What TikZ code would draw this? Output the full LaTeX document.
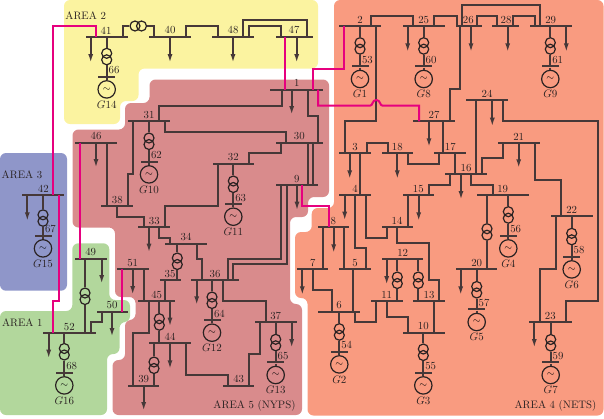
\documentclass[tikz,border=0pt]{standalone}
\usepackage{xcolor}
\usetikzlibrary{arrows.meta}
\definecolor{areaone}{HTML}{B2D79C}
\definecolor{areatwo}{HTML}{FBF3A0}
\definecolor{areathree}{HTML}{8F96C9}
\definecolor{areafour}{HTML}{F99B80}
\definecolor{areafive}{HTML}{D98B8C}
\definecolor{tieline}{HTML}{E6007E}
\definecolor{ink}{HTML}{2A2222}
\definecolor{wire}{HTML}{463838}
\tikzset{
  area/.style = {rounded corners=6pt},
  bus node/.style = {rectangle,fill=wire,inner sep=0pt,minimum height=2pt},
  gen bus node/.style = {bus node,minimum width=17pt},
  trafo node/.style = {circle,draw=ink,line width=1.2pt,inner sep=0pt,minimum size=10pt},
  gen node/.style = {circle,draw=ink,line width=1.2pt,inner sep=0pt,minimum size=17.4pt},
  name node/.style = {inner sep=0pt,font=\fontsize{10.8}{12}\selectfont,text=ink},
  line/.style = {draw=wire,line width=2pt},
  load/.style = {line,-{Latex[length=9pt,width=5pt]}},
  tie/.style = {draw=tieline,line width=2pt}
}

\begin{document}
\begin{tikzpicture}[x=1pt,y=-1pt]
  \useasboundingbox (0,0) rectangle (604,418);

  \fill[areatwo,area] (64,0) -- (318,0) -- (318,68.5) -- (138.5,68.5) -- (138.5,101) -- (120,101) -- (120,124) -- (64,124) -- cycle;
  \fill[areathree,area] (0,153) -- (67,153) -- (67,290.7) -- (0,290.7) -- cycle;
  \fill[areaone,area] (0,311) -- (72.3,311) -- (72.3,243.3) -- (109.3,243.3) -- (109.3,300) -- (130,300) -- (130,322) -- (119.5,322) -- (119.5,354) -- (107,354) -- (107,415) -- (0,415) -- cycle;
  \fill[areafive,area] (72.5,129.5) -- (125,129.5) -- (125,103) -- (149.5,103) -- (149.5,79.5) -- (329,79.5) -- (329,197) -- (308,197) -- (308,217) -- (290,217) -- (290,304) -- (302,304) -- (302,415) -- (112.5,415) -- (112.5,360) -- (125,360) -- (125,320) -- (135.5,320) -- (135.5,297) -- (115,297) -- (115,227.5) -- (72.5,227.5) -- cycle;
  \fill[areafour,area] (334,0) -- (603.5,0) -- (603.5,415.5) -- (307.5,415.5) -- (307.5,298) -- (295,298) -- (295,232) -- (311.7,232) -- (311.7,208) -- (334,208) -- cycle;

  \node[name node] (area1) at (22.3,322.7) {AREA 1};
  \node[name node] (area2) at (85.7,15.7) {AREA 2};
  \node[name node] (area3) at (22,174.7) {AREA 3};
  \node[name node] (area4) at (555.5,405.5) {AREA 4 (NETS)};
  \node[name node] (area5) at (254.5,405.3) {AREA 5 (NYPS)};

  \foreach \num/\xl/\xr/\ypos/\xt in {
    1/270/323.3/89.7/296.7, 2/339.3/381/26/360, 3/339.3/370.7/153/355, 4/339.3/370.7/195/355,
    5/339.3/370.7/269.3/355, 6/318.3/360/311.7/339, 7/297.3/328.3/269.3/312.7, 8/318.3/349.3/227/333.3,
    9/276/317.7/185/296.7, 10/402.7/445/332.7/423.3, 11/371/402.7/301/386.7, 12/381.7/423.3/258.7/402.7,
    13/413.3/445/301/429, 14/381.7/412.7/227/397, 15/403.3/434.3/195/418.3, 16/445/486.7/174/466,
    17/434.3/465.7/153/450.3, 18/381.7/412.7/153/397.3, 19/476.7/529.3/195/502.7, 20/455.7/497.3/269.3/476.7,
    21/497.7/539.7/142.7/518.7, 22/550.7/592.7/216.3/571.7, 23/529.3/571.7/322/550.3, 24/466/508/100/487,
    25/402.7/444.7/26/423.7, 26/455.7/481.7/26/468.3, 27/413.3/455.3/121.3/434, 28/492.3/518.7/26/506,
    29/529.7/571.7/26/550.7, 30/276/323.3/142.5/299.3, 31/128.3/170/121.3/149, 32/212.7/254.3/163.7/233.3,
    33/138.3/170/227/154.3, 34/165/206.7/243.7/186, 35/160/180.7/280/170, 36/191.3/238.7/280/215,
    37/255/296.7/322/275.7, 38/101.3/132.7/206/117.3, 39/128/159.3/385.7/143.7, 40/149/191/36.7/170,
    41/85.7/127.7/36.7/106, 42/22.3/64/195/43.3, 43/223.3/254.3/385.7/238.7, 44/149/191/343.3/170,
    45/138.3/175.3/301/156.7, 46/75/116.7/142.7/96, 47/276/313/36.7/294, 48/212/254/36.7/233,
    49/75/106.7/258.7/90.7, 50/96.7/127.7/311.7/112, 51/117.3/148.7/269.3/132.7, 52/43.3/95.7/333/69.3} {
    \node[bus node,minimum width={(\xr-\xl)*1pt}] (b\num) at ({(\xl+\xr)/2},\ypos) {};
    \node[name node] (t\num) at (\xt,\ypos-6.3) {\num};
  }

  \foreach \num/\busno/\xpos/\ytr/\ybus/\gen in {
    53/2/360/42.7/66.3/1, 54/6/339.3/328.7/351.7/2, 55/10/423.3/349/372.7/3, 56/19/508.3/211.7/235.7/4,
    57/20/476.7/286.5/309.3/5, 58/22/571.7/233.3/256.7/6, 59/23/550.7/339.5/362.3/7, 60/25/423.7/42.7/66.3/8,
    61/29/550.3/42.7/66.3/9, 62/31/149/138/161.7/10, 63/32/233.3/181/204/11, 64/36/212/297/320/12,
    65/37/275.7/339.3/362.3/13, 66/41/106.7/53.3/76.7/14, 67/42/43/214.8/235.7/15, 68/52/64.3/348.5/372.7/16} {
    \node[trafo node] (x\num a) at (\xpos,\ytr) {};
    \node[trafo node] (x\num b) at (\xpos,\ytr+6.5) {};
    \node[gen bus node] (b\num) at (\xpos,\ybus) {};
    \node[name node] (t\num) at (\xpos+7.4,\ybus-6.3) {\num};
    \node[gen node] (g\num) at (\xpos,\ybus+12.7) {$\sim$};
    \node[name node] (n\num) at (\xpos,\ybus+27.8) {$G\gen$};
    \draw[line] (\xpos,0 |- b\busno) -- (x\num a);
    \draw[line] (x\num b) -- (b\num);
    \draw[line] (b\num) -- (g\num);
  }

  \foreach \busa/\busb/\xpos/\ytr in {49/52/85/293, 34/35/177.3/258, 19/20/487/228.7, 12/11/397.3/277,
    12/13/418.3/277, 44/39/154/362, 45/44/159.3/318.7} {
    \node[trafo node] (x\busa-\busb a) at (\xpos,\ytr) {};
    \node[trafo node] (x\busa-\busb b) at (\xpos,\ytr+6.5) {};
    \draw[line] (\xpos,0 |- b\busa) -- (x\busa-\busb a);
    \draw[line] (x\busa-\busb b) -- (\xpos,0 |- b\busb);
  }

  \foreach \busno/\xpos/\yend in {
    1/291.7/115, 3/349.7/179.3, 4/344.7/220.7, 7/302.3/295.3, 8/333.7/253.3, 9/297/210.7, 12/386.7/285,
    15/418.7/221.3, 16/461/200, 18/397.3/179.3, 20/460.7/295.3, 21/518.7/168.3, 23/534.3/348, 24/492.3/126.7,
    25/407.7/52.3, 26/471/52.3, 27/429/147.3, 28/507.7/52.3, 29/566.3/52.3, 33/149/252.7, 36/196.7/305.3,
    37/291.7/348, 39/143.7/411, 40/170/63, 41/90.7/63, 42/27.3/221.3, 44/170/369.3, 45/170/326.7, 46/96/168,
    47/296.7/63, 48/233/63, 49/101.7/284, 50/112/337, 51/132.7/295, 52/48.7/358.7} {
    \coordinate (l\busno) at (\xpos,\yend);
    \draw[load] (\xpos,0 |- b\busno) -- (l\busno);
  }

  \node[trafo node] (x41-40a) at (135,26) {};
  \node[trafo node] (x41-40b) at (141.5,26) {};
  \draw[line] (122.7,0 |- b41) |- (x41-40a);
  \draw[line] (x41-40b) -| (154.3,0 |- b40);
  \draw[line] (185.7,0 |- b40) |- (217.7,26) -- (217.7,0 |- b48);
  \draw[line] (249.3,0 |- b48) |- (281,26) -- (281,0 |- b47);
  \draw[line] (243.3,0 |- b48) |- (307.3,20) -- (307.3,0 |- b47);

  \draw[line] (371,0 |- b2) |- (413.3,15.7) -- (413.3,0 |- b25);
  \draw[line] (434.3,0 |- b25) |- (457.3,15.7) -- (457.3,0 |- b26);
  \draw[line] (476.7,0 |- b26) |- (497.3,15.7) -- (497.3,0 |- b28);
  \draw[line] (513.3,0 |- b28) |- (535,15.7) -- (535,0 |- b29);
  \draw[line] (461.7,0 |- b26) |- (540,5) -- (540,0 |- b29);
  \draw[line] (460,0 |- b26) |- (450.3,89.3) -- (450.3,0 |- b27);
  \draw[line] (376.3,0 |- b2) |- (345,121.3) -- (345,0 |- b3);
  \draw[line] (442.7,0 |- b27) -- (442.7,0 |- b17);
  \draw[line] (366.7,0 |- b3) |- (387.7,142.7) -- (387.7,0 |- b18);
  \draw[line] (407.7,0 |- b18) |- (439.3,163.7) -- (439.3,0 |- b17);
  \draw[line] (455,0 |- b17) -- (455,0 |- b16);
  \draw[line] (360.3,0 |- b3) -- (360.3,0 |- b4);
  \draw[line] (450,0 |- b16) |- (428.7,184.7) -- (428.7,0 |- b15);
  \draw[line] (471.3,0 |- b16) |- (492.7,184.7) -- (492.7,0 |- b19);
  \draw[line] (481.7,0 |- b16) |- (503,158.3) -- (503,0 |- b21);
  \draw[line] (476.3,0 |- b24) -- (476.3,0 |- b16);
  \draw[line] (502.7,0 |- b24) |- (597.7,121.3) -- (597.7,301) -- (566,301) -- (566,0 |- b23);
  \draw[line] (534.7,0 |- b21) |- (561,179.7) -- (561,0 |- b22);
  \draw[line] (555.7,0 |- b22) |- (540,269.3) -- (540,0 |- b23);
  \draw[line] (354.7,0 |- b4) |- (365.7,248) -- (365.7,0 |- b5);
  \draw[line] (366,0 |- b4) |- (386.7,237.7) -- (386.7,0 |- b14);
  \draw[line] (407.7,0 |- b15) -- (407.7,0 |- b14);
  \draw[line] (397.3,0 |- b14) |- (429,242.7) |- (439.3,279.7) -- (439.3,0 |- b13);
  \draw[line] (323.3,0 |- b8) -- (323.3,0 |- b7);
  \draw[line] (344.3,0 |- b8) -- (344.3,0 |- b5);
  \draw[line] (353,0 |- b5) -- (353,0 |- b6);
  \draw[line] (312.7,0 |- b7) |- (332,290.3) -- (332,0 |- b6);
  \draw[line] (355,0 |- b6) |- (376,322.3) -- (376,0 |- b11);
  \draw[line] (386.7,0 |- b11) |- (408,317) -- (408,0 |- b10);
  \draw[line] (434.3,0 |- b13) -- (434.3,0 |- b10);

  \draw[line] (281.7,0 |- b1) |- (159.3,105.7) -- (159.3,0 |- b31);
  \draw[line] (307.7,0 |- b1) |- (318.3,115.7) -- (318.3,0 |- b30);
  \draw[line] (165,0 |- b31) |- (286,131.7) -- (286,0 |- b30);
  \draw[line] (280.7,0 |- b30) |- (249,152.7) -- (249,0 |- b32);
  \draw[line] (218,0 |- b32) |- (164.7,206) -- (164.7,0 |- b33);
  \draw[line] (133,0 |- b31) |- (127.7,174) -- (127.7,0 |- b38);
  \draw[line] (106.7,0 |- b46) -- (106.7,0 |- b38);
  \draw[line] (117.3,0 |- b38) |- (143.7,216.7) -- (143.7,0 |- b33);
  \draw[line] (159.3,0 |- b33) |- (170,238) -- (170,0 |- b34);
  \draw[line] (196.7,0 |- b34) |- (202,259) -- (202,0 |- b36);
  \draw[line] (228,0 |- b36) |- (281.3,259) -- (281.3,0 |- b9);
  \draw[line] (233.3,0 |- b36) |- (286.7,264.3) -- (286.7,0 |- b9);
  \draw[line] (307.7,0 |- b30) -- (307.7,0 |- b9);
  \draw[line] (312.7,0 |- b30) -- (312.7,0 |- b9);
  \draw[line] (223,0 |- b36) |- (265.7,301) -- (265.7,0 |- b37);
  \draw[line] (260.3,0 |- b37) |- (249.3,353.7) -- (249.3,0 |- b43);
  \draw[line] (185.7,0 |- b44) |- (228.3,374.7) -- (228.3,0 |- b43);
  \draw[line] (143.7,0 |- b51) -- (143.7,0 |- b45);
  \draw[line] (165,0 |- b45) -- (165,0 |- b35);
  \draw[line] (149,0 |- b45) |- (132.7,332.7) -- (132.7,0 |- b39);
  \draw[line] (101.7,0 |- b50) |- (90.7,322.3) -- (90.7,0 |- b52);

  \draw[tie] (344.3,0 |- b2) |- (312.7,69) -- (312.7,0 |- b1);
  \draw[tie] (318,0 |- b1) -- (318,105.7) -- (370,105.7) .. controls (373,105.7) and (372,100) .. (376.3,100) .. controls (380.6,100) and (379.6,105.7) .. (382.6,105.7) -- (419,105.7) -- (419,0 |- b27);
  \draw[tie] (96.3,0 |- b41) |- (53.3,26) -- (53.3,0 |- b42);
  \draw[tie] (59,0 |- b42) |- (53.3,301) -- (53.3,0 |- b52);
  \draw[tie] (285,0 |- b47) -- (285,0 |- b1);
  \draw[tie] (80,0 |- b46) -- (80,0 |- b49);
  \draw[tie] (122.3,0 |- b50) -- (122.3,0 |- b51);
  \draw[tie] (302,0 |- b9) |- (328.7,206) -- (328.7,0 |- b8);
\end{tikzpicture}
\end{document}
